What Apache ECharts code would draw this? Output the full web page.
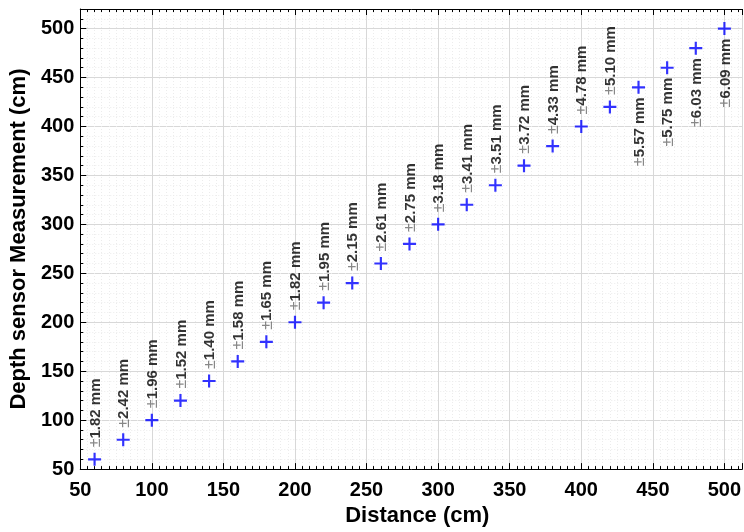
<!DOCTYPE html>
<html>
<head>
<meta charset="utf-8">
<script src="https://cdn.jsdelivr.net/npm/echarts@6/dist/echarts.min.js"></script>
<style>
html,body{margin:0;padding:0;background:#fff;}
#chart{width:744px;height:532px;}
</style>
</head>
<body>
<div id="chart"></div>
<script>
var distance = [60, 80, 100, 120, 140, 160, 180, 200, 220, 240, 260, 280, 300, 320, 340, 360, 380, 400, 420, 440, 460, 480, 500];
var measured = [60, 80, 100, 120, 140, 160, 180, 200, 220, 240, 260, 280, 300, 320, 340, 360, 380, 400, 420, 440, 460, 480, 500];
var errorsMm = ['1.82', '2.42', '1.96', '1.52', '1.40', '1.58', '1.65', '1.82', '1.95', '2.15', '2.61', '2.75', '3.18', '3.41', '3.51', '3.72', '4.33', '4.78', '5.10', '5.57', '5.75', '6.03', '6.09'];
var labelBelow = [false, false, false, false, false, false, false, false, false, false, false, false, false, false, false, false, false, false, false, true, true, true, true];
var xTicks = [50, 100, 150, 200, 250, 300, 350, 400, 450, 500];
var yTicks = [50, 100, 150, 200, 250, 300, 350, 400, 450, 500];

var FONT = '"Liberation Sans", Arial, Helvetica, sans-serif';
var SYM = 13;

var data = distance.map(function (d, i) {
  var below = labelBelow[i];
  return {
    value: [d, measured[i]],
    label: {
      show: true,
      rotate: 90,
      position: below ? [SYM / 2 + 1, SYM / 2 + 10] : [SYM / 2 + 1, SYM / 2 - 12],
      align: below ? 'right' : 'left',
      verticalAlign: 'middle',
      formatter: '{pm|\u00b1}{v|' + errorsMm[i] + ' mm}',
      rich: {
        pm: { color: '#6a6a6a', fontWeight: 'normal', fontSize: 16, fontFamily: FONT },
        v: { color: '#000', fontWeight: 'bold', fontSize: 15, fontFamily: FONT }
      }
    }
  };
});

function tickLabelFmt(list) {
  return function (v) { return list.indexOf(v) >= 0 ? String(v) : ''; };
}

var axisCommon = {
  type: 'value',
  min: 50,
  interval: 50,
  axisLine: { show: true, onZero: false, lineStyle: { color: '#000', width: 1 } },
  axisTick: { show: true, inside: true, length: 6, lineStyle: { color: '#000' } },
  splitLine: { show: true, lineStyle: { color: '#d8d8d8', width: 1 } }
};

var chart = echarts.init(document.getElementById('chart'), null, { renderer: 'canvas' });
chart.setOption({
  animation: false,
  backgroundColor: '#fff',
  grid: { left: 77, top: 9, bottom: 62, right: 0, containLabel: false },
  xAxis: [
    Object.assign({}, axisCommon, {
      max: 512.5,
      position: 'bottom',
      minorTick: { show: true, splitNumber: 10, length: 3, lineStyle: { color: '#000' } },
      minorSplitLine: { show: true, lineStyle: { color: '#ececec', type: [1, 2], width: 1 } },
      axisLabel: { show: true, showMaxLabel: false, margin: 11, color: '#000', fontSize: 20, fontWeight: 'bold', fontFamily: FONT, formatter: tickLabelFmt(xTicks) },
      name: 'Distance (cm)',
      nameLocation: 'middle',
      nameGap: 34,
      nameTextStyle: { color: '#000', fontSize: 22, fontWeight: 'bold', fontFamily: FONT, padding: [0, 0, 0, 12] }
    }),
    Object.assign({}, axisCommon, {
      max: 512.5,
      position: 'top',
      minorTick: { show: true, splitNumber: 10, length: 3, lineStyle: { color: '#000' } },
      splitLine: { show: false },
      axisLabel: { show: false }
    })
  ],
  yAxis: [
    Object.assign({}, axisCommon, {
      max: 520,
      position: 'left',
      minorTick: { show: true, splitNumber: 5, length: 3, lineStyle: { color: '#000' } },
      minorSplitLine: { show: true, lineStyle: { color: '#ececec', type: [1, 2], width: 1 } },
      axisLabel: { show: true, showMaxLabel: false, margin: 6, color: '#000', fontSize: 20, fontWeight: 'bold', fontFamily: FONT, formatter: tickLabelFmt(yTicks) },
      name: 'Depth sensor Measurement (cm)',
      nameLocation: 'middle',
      nameGap: 44,
      nameTextStyle: { color: '#000', fontSize: 22, fontWeight: 'bold', fontFamily: FONT }
    })
  ],
  series: [{
    type: 'scatter',
    xAxisIndex: 0,
    yAxisIndex: 0,
    symbol: 'path://M-1,-6H1V-1H6V1H1V6H-1V1H-6V-1H-1Z',
    symbolSize: SYM,
    itemStyle: { color: '#0000ff' },
    data: data,
    z: 5
  }]
});
</script>
</body>
</html>
